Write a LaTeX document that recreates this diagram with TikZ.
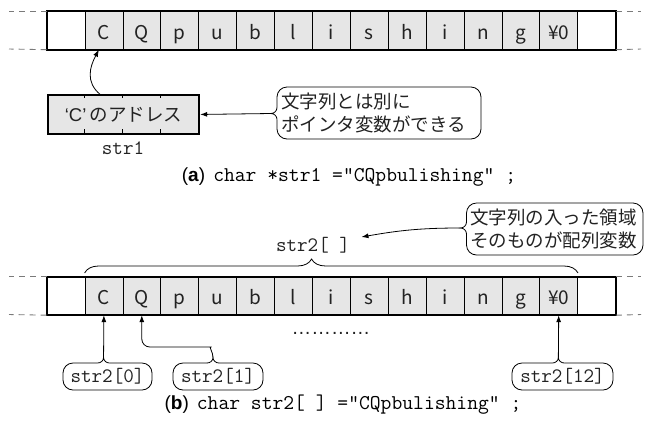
\documentclass[tikz,border=0pt]{standalone}
\usepackage{fontspec}
\setmainfont{Noto Sans CJK JP}
\newfontfamily\latinsans{Liberation Sans}
\usetikzlibrary{decorations.pathreplacing,arrows.meta,calc}
\definecolor{cellgray}{HTML}{E6E6E6}
\definecolor{txt}{HTML}{222222}
\definecolor{dashgray}{HTML}{7A7A7A}
\newcommand{\labbox}[3]{%
  \draw[callout, rounded corners=10pt] (#3+6,-363) -- (#2,-363) -- (#2,-390) -- (#1,-390) -- (#1,-363) -- (#3-6,-363);
  \draw[callout] (#3-6,-363) to[out=0,in=-90] (#3,-357.5) to[out=-90,in=180] (#3+6,-363);}
\begin{document}
\begin{tikzpicture}[x=1pt,y=1pt,
  cell/.style={draw=black, line width=0.7pt, minimum width=37.9pt, minimum height=38pt,
    inner sep=0pt, anchor=north west, text height=18pt, text depth=0pt,
    font=\fontsize{19}{19}\selectfont, text=txt},
  outer/.style={line width=1.9pt},
  dashln/.style={draw=dashgray, line width=0.9pt, dash pattern=on 6pt off 5pt},
  callout/.style={line width=0.8pt},
  arr/.style={line width=0.8pt, -{Latex[length=7pt,width=5pt]}},
  jp/.style={font=\fontsize{18.5}{23}\selectfont, text=txt},
  mono/.style={font=\fontsize{20.5}{22}\selectfont\ttfamily, text=txt},
]
\useasboundingbox (0,0) rectangle (645,-424);

% ---------- top array ----------
\foreach \i/\t/\f in {0//white,1/C/cellgray,2/Q/cellgray,3/p/cellgray,4/u/cellgray,5/b/cellgray,6/l/cellgray,7/i/cellgray,8/s/cellgray,9/h/cellgray,10/i/cellgray,11/n/cellgray,12/g/cellgray,13/¥0/cellgray,14//white}{
  \node[cell, fill=\f] (t\i) at (46.7+\i*37.9,-11) {\t};
}
\draw[outer] (t0.north west) rectangle (t14.south east);
\draw[dashln] (t0.north west) -- (9,-11);
\draw[dashln] (t0.south west) -- (9,-49);
\draw[dashln] (t14.north east) -- (641,-11);
\draw[dashln] (t14.south east) -- (641,-49);

% ---------- pointer box ----------
\node[draw=black, outer, fill=cellgray, minimum width=151.6pt, minimum height=38.4pt,
  inner sep=0pt, anchor=north west, jp] (p) at (46.7,-94.3) {{\latinsans ‘C’}\,のアドレス};
\foreach \k in {1,2,3}{
  \draw[line width=0.7pt] (46.7+\k*37.9,-94.3) -- ++(0,-4);
  \draw[line width=0.7pt] (46.7+\k*37.9,-132.7) -- ++(0,4);
}
\node[mono] (s1) at (123,-148) {str1};
\draw[arr] (100,-94.3) to[out=140,in=-118, looseness=1.1] ([xshift=-5pt]t1.south);

% callout 1
\draw[callout, rounded corners=10pt] (277,-107.5) -- (277,-87) -- (481,-87) -- (481,-139) -- (277,-139) -- (277,-119.5);
\draw[callout] (277,-107.5) to[out=-90,in=0] (271,-113.5) to[out=0,in=90] (277,-119.5);
\coordinate (c1tip) at (271,-113.5);
\node[jp, align=left, anchor=west, inner sep=0pt] (c1) at (281,-113) {文字列とは別に\\ポインタ変数ができる};
\draw[arr] (c1tip) -- (p.east);

% caption a
\node[inner sep=0pt] (capa) at (349,-177) {{\fontsize{19}{20}\selectfont\latinsans (\textbf{a})}\hspace{8pt}\texttt{\fontsize{21}{22}\selectfont char *str1 ="CQpbulishing" ;}};

% ---------- bottom array ----------
\foreach \i/\t/\f in {0//white,1/C/cellgray,2/Q/cellgray,3/p/cellgray,4/u/cellgray,5/b/cellgray,6/l/cellgray,7/i/cellgray,8/s/cellgray,9/h/cellgray,10/i/cellgray,11/n/cellgray,12/g/cellgray,13/¥0/cellgray,14//white}{
  \node[cell, fill=\f] (b\i) at (46.7+\i*37.9,-276.5) {\t};
}
\draw[outer] (b0.north west) rectangle (b14.south east);
\draw[dashln] (b0.north west) -- (9,-276.5);
\draw[dashln] (b0.south west) -- (9,-314.5);
\draw[dashln] (b14.north east) -- (641,-276.5);
\draw[dashln] (b14.south east) -- (641,-314.5);

% brace and label
\draw[line width=0.8pt, decorate, decoration={brace, amplitude=14pt, aspect=0.46}]
  ([yshift=3.5pt]b1.north west) -- ([yshift=3.5pt]b13.north east);
\node[mono] (s2) at (313,-245) {str2[ ]};

% callout 2
\draw[callout, rounded corners=10pt] (466.5,-222) -- (466.5,-203) -- (643,-203) -- (643,-255) -- (466.5,-255) -- (466.5,-234);
\draw[callout] (466.5,-222) to[out=-90,in=0] (460.5,-228) to[out=0,in=90] (466.5,-234);
\coordinate (c2tip) at (460.5,-228);
\node[jp, align=left, anchor=west, inner sep=0pt] (c2) at (470,-229) {文字列の入った領域\\そのものが配列変数};
\draw[arr] (c2tip) to[out=180,in=10] ($(s2.east)+(8,8)$);

% ellipsis
\node[anchor=base, inner sep=0pt, text=txt, font=\fontsize{19.7}{20}\selectfont\latinsans] (dots) at (331,-334) {…………};

% index labels
\labbox{63}{152}{103.55}
\labbox{173}{263}{213}
\labbox{512}{613}{558.35}
\coordinate (n0) at (103.55,-357.5);
\coordinate (n1) at (213,-357.5);
\coordinate (n12) at (558.35,-357.5);
\node[mono] (l0) at (107.5,-376.5) {str2[0]};
\node[mono] (l1) at (218,-376.5) {str2[1]};
\node[mono] (l12) at (562.5,-376.5) {str2[12]};
\draw[arr] (n0) -- (b1.south);
\draw[arr, rounded corners=8pt] (n1) to[out=90,in=0] (203,-347) -- (b2.south |- 0,-347) -- (b2.south);
\draw[arr] (n12) -- (b13.south);

% caption b
\node[inner sep=0pt] (capb) at (343,-405) {{\fontsize{19}{20}\selectfont\latinsans (\textbf{b})}\hspace{8pt}\texttt{\fontsize{21}{22}\selectfont char str2[ ] ="CQpbulishing" ;}};
\end{tikzpicture}
\end{document}
